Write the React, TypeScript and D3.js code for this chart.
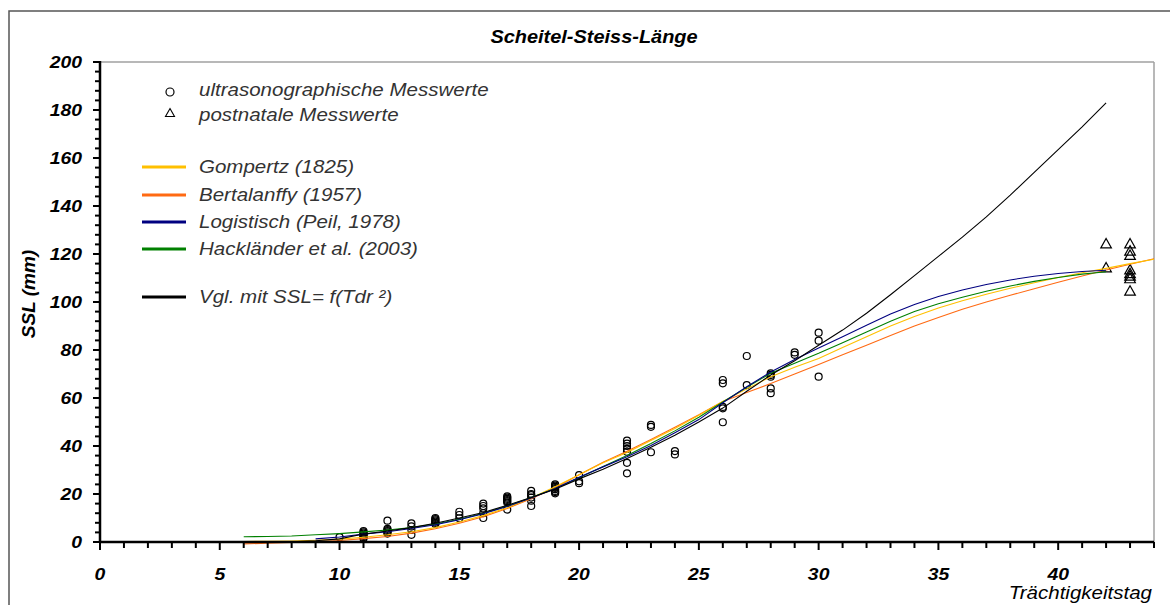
import React from "react";
import * as d3 from "d3";

const curveDays = [6,7,8,9,10,11,12,13,14,15,16,17,18,19,20,21,22,23,24,25,26,27,28,29,30,31,32,33,34,35,36,37,38,39,40,41,42,43,44];
const gompertz = [0.2,0.3,0.4,0.7,1.2,2.0,3.0,4.3,6.0,8.3,11.0,14.3,18.3,23.0,28.0,33.0,37.3,42.3,47.3,52.8,58.5,63.8,68.9,72.8,76.5,81.0,85.5,90.0,94.0,97.5,100.5,103.2,105.7,108.0,110.2,112.2,114.0,116.0,117.8];
const bertalanffy = [-0.8,-0.5,-0.2,0.2,0.6,1.4,2.3,3.7,5.5,7.8,10.5,14.0,18.0,22.6,28.0,33.2,37.8,42.7,47.8,53.0,58.5,62.3,66.0,70.0,74.0,78.0,82.0,86.0,90.0,93.5,97.0,100.0,102.8,105.5,108.2,110.8,113.3,115.7,118.0];
const logistisch = [null,null,null,1.3,2.1,3.3,4.3,5.6,7.2,9.3,11.8,14.8,18.3,22.3,27.0,31.3,35.5,40.2,45.5,51.0,58.0,64.7,70.8,76.0,80.8,85.5,90.3,95.0,99.0,102.3,105.0,107.3,109.2,110.7,111.9,112.7,113.2,null,null];
const hacklaender = [2.2,2.3,2.5,3.0,3.5,4.2,5.0,6.0,7.5,9.5,12.0,15.0,18.5,22.3,26.8,31.5,36.0,41.0,46.3,52.0,58.3,64.5,70.3,74.5,78.6,83.0,87.5,92.0,96.0,99.3,102.0,104.5,106.7,108.6,110.2,111.6,112.6,null,null];
const vgl = [null,null,0.1,0.5,1.3,3.3,4.6,6.0,7.8,10.0,12.3,15.3,18.5,22.0,26.3,30.3,34.8,39.5,44.5,50.0,55.8,62.8,69.6,75.5,82.0,88.3,95.3,103.0,111.0,119.0,127.0,135.5,144.5,154.0,163.5,173.0,183.0,null,null];

const usDays = [10,11,11,11,11,11,11,11,12,12,12,12,12,12,13,13,13,13,14,14,14,14,14,14,15,15,15,16,16,16,16,16,17,17,17,17,17,17,17,18,18,18,18,18,18,19,19,19,19,19,19,19,19,20,20,20,22,22,22,22,22,22,22,23,23,23,24,24,26,26,26,26,26,27,27,28,28,28,28,28,29,29,30,30,30];
const usValues = [2,1.5,2,2.5,3,3.5,4,4.5,3.5,4,4.5,5,5.5,8.9,3,5,6.5,7.8,7.5,8,8.5,9,9.5,10,9.9,11.25,12.6,10,12,14,15,16,13.5,16.5,17,17.5,18,18.5,19,15,17.2,18.5,19.5,20,21.3,20.3,20.8,21.3,22,22.5,23,23.5,24,24.5,25.3,27.9,28.6,33,37.6,38.8,40,41,42.2,37.4,48,48.8,36.5,37.9,49.9,55.7,56.3,66.1,67.5,65.4,77.5,62,64,68.9,69.6,70.3,78,79,68.9,83.9,87.2];
const pnDays = [42,42,43,43,43,43,43,43,43,43];
const pnValues = [114.4,124.4,104.7,109.9,111,112,113.6,119.6,121.4,124.4];

const xTickLabels = [0,5,10,15,20,25,30,35,40];
const yTickLabels = [0,20,40,60,80,100,120,140,160,180,200];

const seriesNames = ["Gompertz (1825)","Bertalanffy (1957)","Logistisch (Peil, 1978)","Hackländer et al. (2003)","Vgl. mit SSL= f(Tdr ²)"];
const seriesColors = ["#FFC000","#FF6A13","#000080","#008000","#000000"];
const seriesData = [gompertz, bertalanffy, logistisch, hacklaender, vgl];

const FONT = "'Liberation Sans', Arial, sans-serif";
const SX = 1.14;

function T({ x, y, anchor = "start", size = 17, weight = "normal", fill = "#000", children, rotate = 0, sx = SX }: any) {
  const tr = rotate
    ? `translate(${x},${y}) rotate(${rotate})`
    : `translate(${x},${y}) scale(${sx},1)`;
  return (
    <text transform={tr} textAnchor={anchor} fontFamily={FONT} fontSize={size} fontStyle="italic" fontWeight={weight} fill={fill}>
      {children}
    </text>
  );
}

export default function App() {
  const W = 1170, H = 605;
  const x = d3.scaleLinear().domain([0, 44]).range([100, 1154]);
  const y = d3.scaleLinear().domain([0, 200]).range([542, 62]);

  const line = d3.line<any>()
    .defined((d) => d[1] !== null)
    .x((d) => x(d[0]))
    .y((d) => y(d[1]));

  const minorX = d3.range(0, 45, 1);
  const minorY = d3.range(0, 201, 4);

  const order = [1, 0, 3, 2, 4];
  const legendLineY = [167, 195, 222, 249, 297];

  return (
    <svg width={W} height={H} style={{ position: "absolute", left: 0, top: 0, background: "#fff" }}>
      <rect x={0} y={0} width={W} height={H} fill="#fff" />
      <rect x={9} y={11} width={1300} height={800} fill="none" stroke="#555" strokeWidth={1.5} />
      <line x1={100} y1={62} x2={1154} y2={62} stroke="#a0a0a0" strokeWidth={1.5} />
      <line x1={1154} y1={62} x2={1154} y2={542} stroke="#a0a0a0" strokeWidth={1.5} />

      <T x={594} y={43} anchor="middle" size={17.5} weight="bold">Scheitel-Steiss-Länge</T>

      <g fill="none" stroke="#000" strokeWidth={1.2}>
        {usDays.map((d, i) => (
          <circle key={"u" + i} cx={x(d)} cy={y(usValues[i])} r={3.5} />
        ))}
        {pnDays.map((d, i) => {
          const cx = x(d), cy = y(pnValues[i]);
          return <path key={"p" + i} d={`M${cx},${cy - 5}L${cx + 5.3},${cy + 4.5}L${cx - 5.3},${cy + 4.5}Z`} />;
        })}
      </g>

      <g fill="none" strokeWidth={1.1}>
        {order.map((si) => (
          <path key={si} d={line(curveDays.map((d, i) => [d, seriesData[si][i]])) || ""} stroke={seriesColors[si]} />
        ))}
      </g>

      <g stroke="#000">
        {minorX.map((t) => (
          <line key={"xt" + t} x1={x(t)} x2={x(t)} y1={542} y2={t % 5 === 0 ? 550 : 548} strokeWidth={2} />
        ))}
        {minorY.map((t) => (
          <line key={"yt" + t} x1={t % 20 === 0 ? 93 : 95} x2={100} y1={y(t)} y2={y(t)} strokeWidth={2} />
        ))}
        <line x1={100} x2={1154} y1={542} y2={542} strokeWidth={2.5} />
        <line x1={100} x2={100} y1={61} y2={543} strokeWidth={2.5} />
      </g>
      {xTickLabels.map((t) => (
        <T key={"xl" + t} x={x(t)} y={580} anchor="middle" size={17} weight="bold">{t}</T>
      ))}
      {yTickLabels.map((t) => (
        <T key={"yl" + t} x={82} y={y(t) + 6} anchor="end" size={17} weight="bold">{t}</T>
      ))}
      <T x={35} y={294} anchor="middle" size={19} weight="bold" rotate={-90}>SSL (mm)</T>
      <T x={1152} y={599} anchor="end" size={18}>Trächtigkeitstag</T>

      <circle cx={170} cy={92} r={4} fill="none" stroke="#000" strokeWidth={1.2} />
      <path d={`M170,108.5L174.5,116.5L165.5,116.5Z`} fill="none" stroke="#000" strokeWidth={1.1} />
      <T x={199} y={96} size={18} fill="#333">ultrasonographische Messwerte</T>
      <T x={199} y={121} size={18} fill="#333">postnatale Messwerte</T>
      {seriesNames.map((n, i) => (
        <g key={n}>
          <line x1={142} x2={186} y1={legendLineY[i]} y2={legendLineY[i]} stroke={seriesColors[i]} strokeWidth={3} />
          <T x={199} y={legendLineY[i] + 6} size={18} fill="#333">{n}</T>
        </g>
      ))}
    </svg>
  );
}
